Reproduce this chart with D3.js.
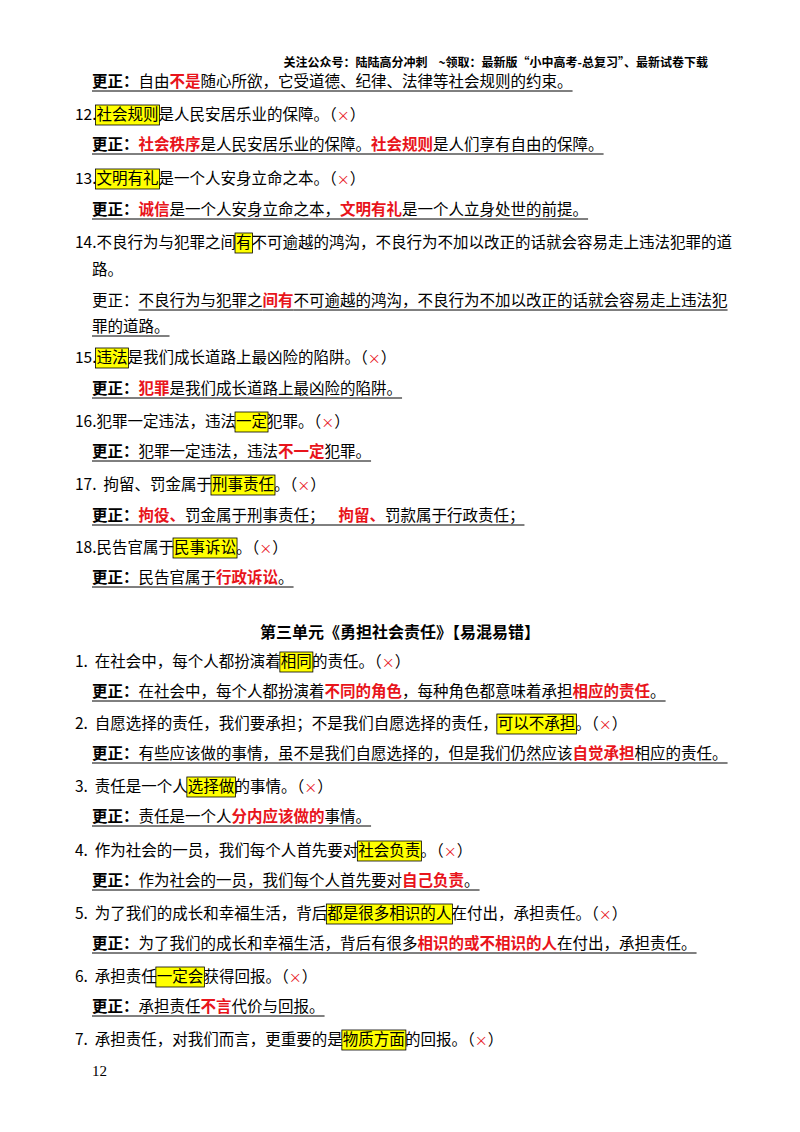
<!DOCTYPE html>
<html><head><meta charset="utf-8">
<script src="https://cdn.jsdelivr.net/npm/d3@7"></script>
<style>body{margin:0;background:#fff}svg{display:block}text{white-space:pre}</style>
</head><body>
<script>
// segments: [text, style]  n=normal b=bold r=red bold h=highlight x=red cross, suffix u=underlined
var header = "关注公众号：陆陆高分冲刺    ~领取：最新版“小中高考-总复习”、最新试卷下载";
var title = "第三单元《勇担社会责任》【易混易错】";
var pageNo = "12";

// [y, x, underline, segments]
var lines = [
  [82, 92, true, [["更正：","b"],["自由","n"],["不是","r"],["随心所欲，它受道德、纪律、法律等社会规则的约束。","n"]]],
  [115, 75, false, [["12.","n"],["社会规则","h"],["是人民安居乐业的保障。（","n"],["×","x"],["）","n"]]],
  [145, 92, true, [["更正：","b"],["社会秩序","r"],["是人民安居乐业的保障。","n"],["社会规则","r"],["是人们享有自由的保障。","n"]]],
  [179, 75, false, [["13.","n"],["文明有礼","h"],["是一个人安身立命之本。（","n"],["×","x"],["）","n"]]],
  [210, 92, true, [["更正：","b"],["诚信","r"],["是一个人安身立命之本，","n"],["文明有礼","r"],["是一个人立身处世的前提。","n"]]],
  [243, 75, false, [["14.不良行为与犯罪之间","n"],["有","h"],["不可逾越的鸿沟，不良行为不加以改正的话就会容易走上违法犯罪的道","n"]]],
  [270, 92, false, [["路。","n"]]],
  [301, 92, false, [["更正：","n"],["不良行为与犯罪之","nu"],["间有","ru"],["不可逾越的鸿沟，不良行为不加以改正的话就会容易走上违法犯","nu"]]],
  [327, 92, true, [["罪的道路。","n"]]],
  [358, 75, false, [["15.","n"],["违法","h"],["是我们成长道路上最凶险的陷阱。（","n"],["×","x"],["）","n"]]],
  [389, 92, true, [["更正：","b"],["犯罪","r"],["是我们成长道路上最凶险的陷阱。","n"]]],
  [422, 75, false, [["16.犯罪一定违法，违法","n"],["一定","h"],["犯罪。（","n"],["×","x"],["）","n"]]],
  [452, 92, true, [["更正：","b"],["犯罪一定违法，违法","n"],["不一定","r"],["犯罪。","n"]]],
  [485, 75, false, [["17.  拘留、罚金属于","n"],["刑事责任","h"],["。（","n"],["×","x"],["）","n"]]],
  [516, 92, true, [["更正：","b"],["拘役、","r"],["罚金属于刑事责任；    ","n"],["拘留、","r"],["罚款属于行政责任；","n"]]],
  [548, 75, false, [["18.民告官属于","n"],["民事诉讼","h"],["。（","n"],["×","x"],["）","n"]]],
  [578, 92, true, [["更正：","b"],["民告官属于","n"],["行政诉讼","r"],["。","n"]]],
  [662, 75, false, [["1.  在社会中，每个人都扮演着","n"],["相同","h"],["的责任。（","n"],["×","x"],["）","n"]]],
  [692, 92, true, [["更正：","b"],["在社会中，每个人都扮演着","n"],["不同的角色","r"],["，每种角色都意味着承担","n"],["相应的责任","r"],["。","n"]]],
  [724, 75, false, [["2.  自愿选择的责任，我们要承担；不是我们自愿选择的责任，","n"],["可以不承担","h"],["。（","n"],["×","x"],["）","n"]]],
  [754, 92, true, [["更正：","b"],["有些应该做的事情，虽不是我们自愿选择的，但是我们仍然应该","n"],["自觉承担","r"],["相应的责任。","n"]]],
  [787, 75, false, [["3.  责任是一个人","n"],["选择做","h"],["的事情。（","n"],["×","x"],["）","n"]]],
  [817, 92, true, [["更正：","b"],["责任是一个人","n"],["分内应该做的","r"],["事情。","n"]]],
  [851, 75, false, [["4.  作为社会的一员，我们每个人首先要对","n"],["社会负责","h"],["。（","n"],["×","x"],["）","n"]]],
  [881, 92, true, [["更正：","b"],["作为社会的一员，我们每个人首先要对","n"],["自己负责","r"],["。","n"]]],
  [914, 75, false, [["5.  为了我们的成长和幸福生活，背后","n"],["都是很多相识的人","h"],["在付出，承担责任。（","n"],["×","x"],["）","n"]]],
  [944, 92, true, [["更正：","b"],["为了我们的成长和幸福生活，背后有很多","n"],["相识的或不相识的人","r"],["在付出，承担责任。","n"]]],
  [977, 75, false, [["6.  承担责任","n"],["一定会","h"],["获得回报。（","n"],["×","x"],["）","n"]]],
  [1007, 92, true, [["更正：","b"],["承担责任","n"],["不言","r"],["代价与回报。","n"]]],
  [1040, 75, false, [["7.  承担责任，对我们而言，更重要的是","n"],["物质方面","h"],["的回报。（","n"],["×","x"],["）","n"]]]
];

var font = "'Noto Sans CJK SC', 'Noto Sans', sans-serif";
var svg = d3.select("body").append("svg").attr("width", 800).attr("height", 1132);
svg.append("rect").attr("width", 800).attr("height", 1132).attr("fill", "#fff");

svg.append("text").attr("x", 708).attr("y", 67).attr("text-anchor", "end")
  .attr("font-family", font).attr("font-size", 12).attr("font-weight", "bold").text(header);
svg.append("text").attr("x", 400).attr("y", 638).attr("text-anchor", "middle")
  .attr("font-family", font).attr("font-size", 16).attr("font-weight", "bold").text(title);
svg.append("text").attr("x", 92).attr("y", 1076)
  .attr("font-family", "'Liberation Serif', serif").attr("font-size", 15).text(pageNo);

lines.forEach(function(l) {
  var y = l[0] + 5, x = l[1];
  var g = svg.append("g");
  l[3].forEach(function(s) {
    var st = s[1];
    var t = g.append("text").attr("x", x).attr("y", y)
      .attr("xml:space", "preserve")
      .attr("font-family", font).attr("font-size", st[0] === "x" ? 13 : 15.5)
      .attr("font-weight", (st[0] === "b" || st[0] === "r") ? "bold" : "normal")
      .attr("fill", (st[0] === "r" || st[0] === "x") ? "#e8141b" : "#000")
      .text(s[0]);
    var w = t.node().getComputedTextLength();
    if (st[0] === "h") {
      g.insert("rect", "text").attr("x", x - 1).attr("y", y - 15).attr("width", w + 2).attr("height", 20)
        .attr("fill", "#ffff00").attr("stroke", "#000").attr("stroke-width", 0.8);
    }
    x += w;
    if (st.length > 1 && st[1] === "u") {
      g.append("line").attr("x1", x - w).attr("x2", x).attr("y1", y + 4).attr("y2", y + 4)
        .attr("stroke", "#000").attr("stroke-width", 1);
    }
  });
  if (l[2]) {
    g.append("line").attr("x1", l[1]).attr("x2", x).attr("y1", y + 4).attr("y2", y + 4)
      .attr("stroke", "#000").attr("stroke-width", 1);
  }
});
</script>
</body></html>
